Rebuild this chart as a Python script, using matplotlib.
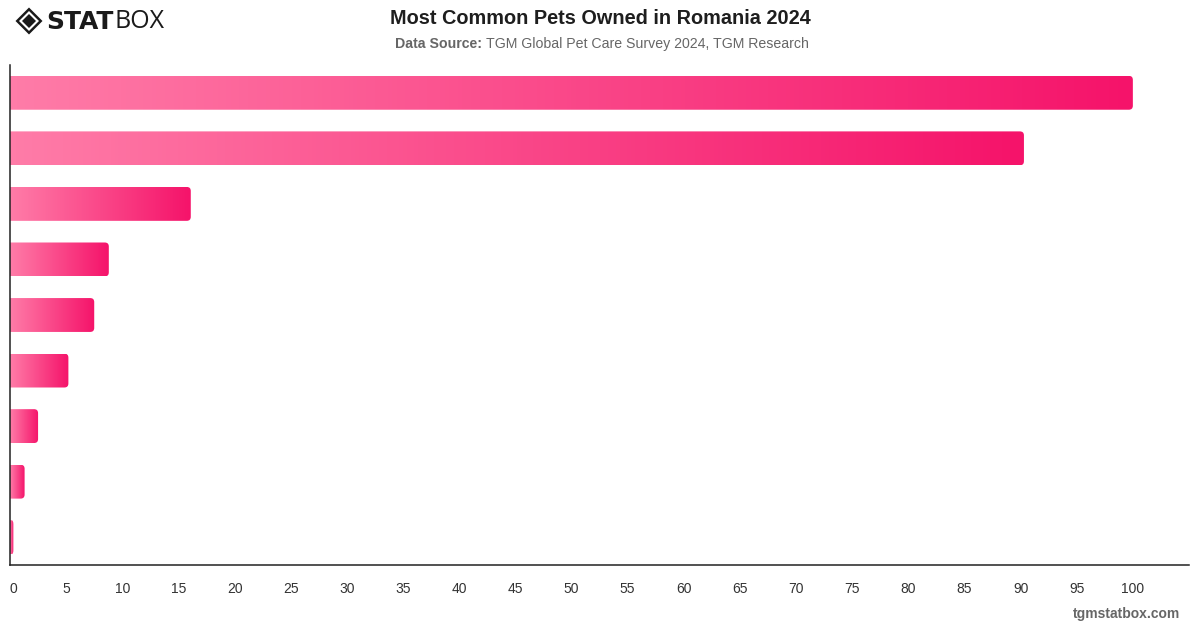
import matplotlib

matplotlib.use("Agg")
import matplotlib.pyplot as plt
import numpy as np
from matplotlib.colors import LinearSegmentedColormap
from matplotlib.patches import PathPatch, Polygon
from matplotlib.path import Path

# Data, top bar first
values = [100, 90.3, 16.1, 8.8, 7.5, 5.2, 2.5, 1.3, 0.3]
x_ticks = list(range(0, 101, 5))

TITLE = "Most Common Pets Owned in Romania 2024"
SOURCE_BOLD = "Data Source:"
SOURCE_TEXT = "TGM Global Pet Care Survey 2024, TGM Research"

LIGHT_PINK = "#ff7ca8"
DEEP_PINK = "#f5136a"
TEXT_GREY = "#666666"

plt.rcParams["font.family"] = ["Liberation Sans", "DejaVu Sans"]

bar_cmap = LinearSegmentedColormap.from_list("pinks", [LIGHT_PINK, DEEP_PINK])


def right_rounded_path(x1, y0, y1, rx, ry):
    # rectangle from far left (clipped by axes) to x1, rounded on the right corners
    x0 = -10
    verts = [
        (x0, y0),
        (x1 - rx, y0),
        (x1, y0),
        (x1, y0 + ry),
        (x1, y1 - ry),
        (x1, y1),
        (x1 - rx, y1),
        (x0, y1),
        (x0, y0),
    ]
    codes = [
        Path.MOVETO,
        Path.LINETO,
        Path.CURVE3,
        Path.CURVE3,
        Path.LINETO,
        Path.CURVE3,
        Path.CURVE3,
        Path.LINETO,
        Path.CLOSEPOLY,
    ]
    return Path(verts, codes)


fig = plt.figure(figsize=(12, 6.28), dpi=100)
fig.patch.set_facecolor("white")
ax = fig.add_axes([10 / 1200, 63 / 628, 1179 / 1200, 500 / 628])

n = len(values)
bar_h = 0.61
x_max = 105
px_per_x = 1179 / x_max
px_per_y = 500 / n
gradient = np.linspace(0, 1, 256).reshape(1, -1)

for i, v in enumerate(values):
    yc = n - 1 - i
    y0, y1 = yc - bar_h / 2, yc + bar_h / 2
    rx = min(4 / px_per_x, v * 0.5) if v > 0 else 0
    ry = 4 / px_per_y
    patch = PathPatch(right_rounded_path(v, y0, y1, rx, ry), facecolor="none",
                      edgecolor="none")
    ax.add_patch(patch)
    img = ax.imshow(gradient, cmap=bar_cmap, aspect="auto",
                    extent=[0, v, y0, y1], interpolation="bicubic", zorder=2)
    img.set_clip_path(patch)

ax.set_xlim(0, x_max)
ax.set_ylim(-0.5, n - 0.5)
ax.set_xticks(x_ticks)
ax.set_xticklabels([str(t) for t in x_ticks], fontsize=10, color="#333333")
ax.set_yticks([])
ax.tick_params(axis="x", length=0, pad=12)
ax.get_xticklabels()[0].set_horizontalalignment("left")

for side in ["top", "right"]:
    ax.spines[side].set_visible(False)
ax.spines["left"].set_color("#222222")
ax.spines["bottom"].set_color("#222222")
ax.spines["left"].set_linewidth(1.1)
ax.spines["bottom"].set_linewidth(1.1)

# Title and source line
fig.text(0.5, 1 - 18 / 628, TITLE, ha="center", va="center", fontsize=14.3,
         fontweight="bold", color="#1e1e1e")
src = fig.text(0.5, 1 - 44 / 628, SOURCE_BOLD + " " + SOURCE_TEXT, ha="center",
               va="center", fontsize=10.2, color="white")
fig.canvas.draw()
bb = src.get_window_extent()
src.set_visible(False)
t1 = fig.text(bb.x0 / 1200, 1 - 44 / 628, SOURCE_BOLD + " ", ha="left",
              va="center", fontsize=10.2, fontweight="bold", color=TEXT_GREY)
fig.canvas.draw()
bb1 = t1.get_window_extent()
fig.text(bb1.x1 / 1200, 1 - 44 / 628, SOURCE_TEXT, ha="left", va="center",
         fontsize=10.2, color=TEXT_GREY)

# Footer
fig.text(1180 / 1200, 1 - 614 / 628, "tgmstatbox.com", ha="right", va="center",
         fontsize=10, fontweight="bold", color=TEXT_GREY)

# STATBOX logo
cx, cy, r = 29, 607, 13.5
outer = Polygon([(cx - r, cy), (cx, cy + r), (cx + r, cy), (cx, cy - r)],
                closed=True, facecolor="#1a1a1a", edgecolor="none",
                transform=None)
ring = Polygon([(cx - r + 3.5, cy), (cx, cy + r - 3.5), (cx + r - 3.5, cy),
                (cx, cy - r + 3.5)], closed=True, facecolor="white",
               edgecolor="none", transform=None)
inner = Polygon([(cx - r + 6.5, cy), (cx, cy + r - 6.5), (cx + r - 6.5, cy),
                 (cx, cy - r + 6.5)], closed=True, facecolor="#1a1a1a",
                edgecolor="none", transform=None)
for p in (outer, ring, inner):
    fig.patches.append(p)
logo1 = fig.text(46 / 1200, 1 - 22 / 628, "STAT", ha="left", va="center",
                 fontsize=18, fontweight="heavy", color="#1a1a1a",
                 family=["DejaVu Sans"])
fig.canvas.draw()
lb = logo1.get_window_extent()
fig.text(lb.x1 / 1200 + 0.001, 1 - 22 / 628, "BOX", ha="left", va="center",
         fontsize=18, fontweight="normal", color="#1a1a1a",
         family=["Open Sans", "DejaVu Sans"])

fig.savefig("out.png", dpi=100)
